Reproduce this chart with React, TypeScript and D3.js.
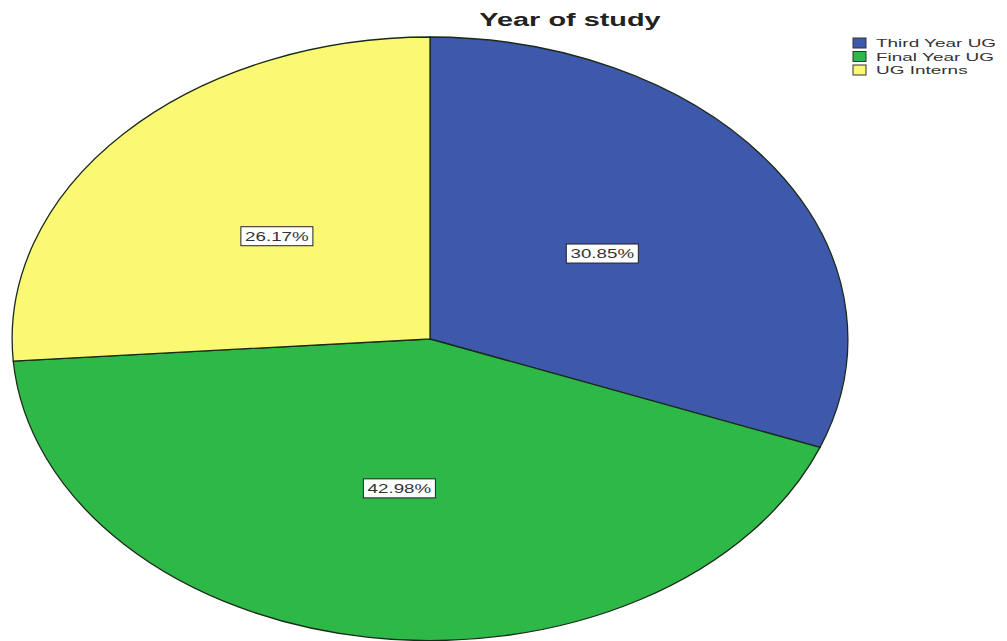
import React from "react";
import * as d3 from "d3";

// Share of respondents by year of study
const categories = ["Third Year UG", "Final Year UG", "UG Interns"];
const percents = [30.85, 42.98, 26.17];
const colors = ["#3e58ac", "#2eb848", "#fbf873"];
const title = "Year of study";

const W = 1007;
const H = 641;
const cx = 430;
const cy = 339;
const rx = 418;
const ry = 302;
const FONT = "'Liberation Sans', Arial, Helvetica, sans-serif";

export default function App() {
  const pie = d3
    .pie<number>()
    .sort(null)
    .value((d) => d);
  const arcs = pie(percents);
  // unit-radius arcs, stretched into the ellipse by the group transform
  const arc = d3.arc<d3.PieArcDatum<number>>().innerRadius(0).outerRadius(1);

  const labelW = 72;
  const labelH = 19;

  return (
    <svg
      width={W}
      height={H}
      style={{ position: "absolute", left: 0, top: 0, background: "#fff" }}
    >
      <text
        transform={`translate(570,26) scale(1.52,1)`}
        textAnchor="middle"
        fontFamily={FONT}
        fontWeight="bold"
        fontSize={19}
        fill="#222"
      >
        {title}
      </text>

      <g transform={`translate(${cx},${cy}) scale(${rx},${ry})`}>
        {arcs.map((a, i) => (
          <path
            key={categories[i]}
            d={arc(a) || ""}
            fill={colors[i]}
            stroke="#1a2a1a"
            strokeWidth={1.3}
            vectorEffect="non-scaling-stroke"
          />
        ))}
      </g>

      {arcs.map((a, i) => {
        const [ux, uy] = arc.centroid(a);
        const x = cx + ux * rx;
        const y = cy + uy * ry;
        return (
          <g key={"lab" + i}>
            <rect
              x={x - labelW / 2}
              y={y - labelH / 2}
              width={labelW}
              height={labelH}
              fill="#fff"
              stroke="#222"
              strokeWidth={1}
            />
            <text
              transform={`translate(${x},${y + 4.5}) scale(1.5,1)`}
              textAnchor="middle"
              fontFamily={FONT}
              fontSize={12.5}
              fill="#333"
            >
              {percents[i].toFixed(2)}%
            </text>
          </g>
        );
      })}

      {categories.map((c, i) => (
        <g key={"leg" + i} transform={`translate(853,${38 + i * 13.5})`}>
          <rect
            x={0}
            y={0}
            width={13}
            height={10}
            fill={colors[i]}
            stroke="#333"
            strokeWidth={1}
          />
          <text
            transform={`translate(23,9.2) scale(1.65,1)`}
            fontFamily={FONT}
            fontSize={11.5}
            fill="#333"
          >
            {c}
          </text>
        </g>
      ))}
    </svg>
  );
}
